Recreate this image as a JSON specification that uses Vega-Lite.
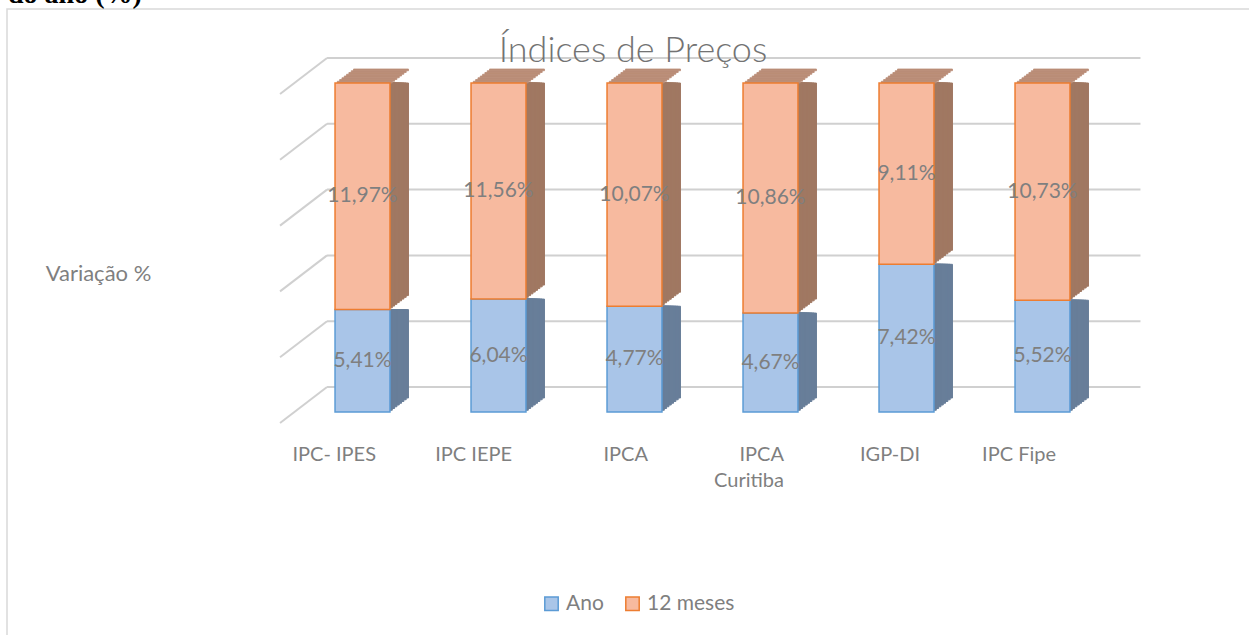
{
  "$schema": "https://vega.github.io/schema/vega-lite/v6.json",
  "width": 1244,
  "height": 628,
  "autosize": {"type": "none"},
  "padding": {"left": 7, "top": 9, "right": 0, "bottom": 0},
  "background": "white",
  "config": {
    "view": {"stroke": "#D9D9D9", "strokeWidth": 1.5},
    "font": "Lato"
  },
  "title": {
    "text": "Índices de Preços",
    "font": "Lato",
    "fontSize": 36,
    "fontWeight": 300,
    "color": "#737373",
    "anchor": "middle",
    "frame": "group",
    "offset": 0,
    "baseline": "alphabetic",
    "dy": 117,
    "dx": 4
  },
  "datasets": {
    "grid": [{"g": 0}, {"g": 0.2}, {"g": 0.4}, {"g": 0.6}, {"g": 0.8}, {"g": 1}],
    "note": [{"t": "do ano (%)"}],
    "main": [
      {"idx": "IPC- IPES", "series": "Ano", "v": 5.41},
      {"idx": "IPC- IPES", "series": "12 meses", "v": 11.97},
      {"idx": "IPC IEPE", "series": "Ano", "v": 6.04},
      {"idx": "IPC IEPE", "series": "12 meses", "v": 11.56},
      {"idx": "IPCA", "series": "Ano", "v": 4.77},
      {"idx": "IPCA", "series": "12 meses", "v": 10.07},
      {"idx": "IPCA Curitiba", "series": "Ano", "v": 4.67},
      {"idx": "IPCA Curitiba", "series": "12 meses", "v": 10.86},
      {"idx": "IGP-DI", "series": "Ano", "v": 7.42},
      {"idx": "IGP-DI", "series": "12 meses", "v": 9.11},
      {"idx": "IPC Fipe", "series": "Ano", "v": 5.52},
      {"idx": "IPC Fipe", "series": "12 meses", "v": 10.73}
    ]
  },
  "layer": [
    {
      "data": {"name": "grid"},
      "mark": {"type": "rule", "stroke": "#D0D0D0", "strokeWidth": 2, "xOffset": -8, "x2Offset": 70.5, "yOffset": -25, "y2Offset": -25},
      "encoding": {
        "x": {"datum": "IPC- IPES", "type": "nominal", "bandPosition": 0, "title": null,
              "scale": {"type": "band", "domain": ["IPC- IPES", "IPC IEPE", "IPCA", "IPCA Curitiba", "IGP-DI", "IPC Fipe"], "range": [287.5, 1103.5], "paddingInner": 0.596, "paddingOuter": 0.298}},
        "x2": {"datum": "IPC Fipe", "bandPosition": 1},
        "y": {"field": "g", "type": "quantitative", "title": "Variação %", "scale": {"domain": [0, 1], "range": [403, 74], "nice": false, "zero": false}},
        "y2": {"field": "g"}
      }
    },
    {
      "data": {"name": "grid"},
      "mark": {"type": "rule", "stroke": "#D0D0D0", "strokeWidth": 2, "xOffset": -55, "x2Offset": -8, "yOffset": 11, "y2Offset": -25},
      "encoding": {
        "x": {"datum": "IPC- IPES", "type": "nominal", "bandPosition": 0, "title": null},
        "x2": {"datum": "IPC- IPES", "bandPosition": 0},
        "y": {"field": "g", "type": "quantitative", "title": "Variação %"},
        "y2": {"field": "g"}
      }
    },
    {
      "data": {"name": "note"},
      "mark": {"type": "text", "font": "Liberation Serif", "fontWeight": "bold", "fontSize": 28, "color": "#000000", "align": "left", "baseline": "alphabetic", "dx": -327, "dy": -80},
      "encoding": {
        "x": {"datum": "IPC- IPES", "type": "nominal", "bandPosition": 0, "title": null},
        "y": {"datum": 1, "type": "quantitative", "title": "Variação %"},
        "text": {"field": "t"}
      }
    },
    {
      "data": {"name": "main"},
      "transform": [
        {"stack": "v", "groupby": ["idx"], "sort": [{"field": "series", "order": "descending"}], "offset": "normalize", "as": ["y0", "y1"]},
        {"calculate": "(datum.y0 + datum.y1) / 2", "as": "mid"},
        {"calculate": "replace(format(datum.v, '.2f'), '.', ',') + '%'", "as": "lbl"}
      ],
      "layer": [
        {"mark": {"type": "bar", "xOffset": 18.5, "yOffset": -14, "strokeWidth": 1},
         "encoding": {"x": {"field": "idx", "type": "nominal", "title": null}, "y": {"field": "y0", "type": "quantitative", "title": "Variação %"}, "y2": {"field": "y1"},
           "fill": {"condition": {"test": "datum.series === 'Ano'", "value": "#687E99"}, "value": "#A07862"},
           "stroke": {"condition": {"test": "datum.series === 'Ano'", "value": "#687E99"}, "value": "#A07862"}}},
        {"mark": {"type": "bar", "xOffset": 16.19, "yOffset": -12.25, "strokeWidth": 1},
         "encoding": {"x": {"field": "idx", "type": "nominal", "title": null}, "y": {"field": "y0", "type": "quantitative", "title": "Variação %"}, "y2": {"field": "y1"},
           "fill": {"condition": {"test": "datum.series === 'Ano'", "value": "#687E99"}, "value": "#A07862"},
           "stroke": {"condition": {"test": "datum.series === 'Ano'", "value": "#687E99"}, "value": "#A07862"}}},
        {"mark": {"type": "bar", "xOffset": 13.88, "yOffset": -10.5, "strokeWidth": 1},
         "encoding": {"x": {"field": "idx", "type": "nominal", "title": null}, "y": {"field": "y0", "type": "quantitative", "title": "Variação %"}, "y2": {"field": "y1"},
           "fill": {"condition": {"test": "datum.series === 'Ano'", "value": "#687E99"}, "value": "#A07862"},
           "stroke": {"condition": {"test": "datum.series === 'Ano'", "value": "#687E99"}, "value": "#A07862"}}},
        {"mark": {"type": "bar", "xOffset": 11.56, "yOffset": -8.75, "strokeWidth": 1},
         "encoding": {"x": {"field": "idx", "type": "nominal", "title": null}, "y": {"field": "y0", "type": "quantitative", "title": "Variação %"}, "y2": {"field": "y1"},
           "fill": {"condition": {"test": "datum.series === 'Ano'", "value": "#687E99"}, "value": "#A07862"},
           "stroke": {"condition": {"test": "datum.series === 'Ano'", "value": "#687E99"}, "value": "#A07862"}}},
        {"mark": {"type": "bar", "xOffset": 9.25, "yOffset": -7, "strokeWidth": 1},
         "encoding": {"x": {"field": "idx", "type": "nominal", "title": null}, "y": {"field": "y0", "type": "quantitative", "title": "Variação %"}, "y2": {"field": "y1"},
           "fill": {"condition": {"test": "datum.series === 'Ano'", "value": "#687E99"}, "value": "#A07862"},
           "stroke": {"condition": {"test": "datum.series === 'Ano'", "value": "#687E99"}, "value": "#A07862"}}},
        {"mark": {"type": "bar", "xOffset": 6.94, "yOffset": -5.25, "strokeWidth": 1},
         "encoding": {"x": {"field": "idx", "type": "nominal", "title": null}, "y": {"field": "y0", "type": "quantitative", "title": "Variação %"}, "y2": {"field": "y1"},
           "fill": {"condition": {"test": "datum.series === 'Ano'", "value": "#687E99"}, "value": "#A07862"},
           "stroke": {"condition": {"test": "datum.series === 'Ano'", "value": "#687E99"}, "value": "#A07862"}}},
        {"mark": {"type": "bar", "xOffset": 4.62, "yOffset": -3.5, "strokeWidth": 1},
         "encoding": {"x": {"field": "idx", "type": "nominal", "title": null}, "y": {"field": "y0", "type": "quantitative", "title": "Variação %"}, "y2": {"field": "y1"},
           "fill": {"condition": {"test": "datum.series === 'Ano'", "value": "#687E99"}, "value": "#A07862"},
           "stroke": {"condition": {"test": "datum.series === 'Ano'", "value": "#687E99"}, "value": "#A07862"}}},
        {"mark": {"type": "bar", "xOffset": 2.31, "yOffset": -1.75, "strokeWidth": 1},
         "encoding": {"x": {"field": "idx", "type": "nominal", "title": null}, "y": {"field": "y0", "type": "quantitative", "title": "Variação %"}, "y2": {"field": "y1"},
           "fill": {"condition": {"test": "datum.series === 'Ano'", "value": "#687E99"}, "value": "#A07862"},
           "stroke": {"condition": {"test": "datum.series === 'Ano'", "value": "#687E99"}, "value": "#A07862"}}},
        {"transform": [{"filter": "datum.series === '12 meses'"}],
         "mark": {"type": "bar", "xOffset": 18.5, "yOffset": -14, "y2Offset": -12.25, "strokeWidth": 0.8, "fill": "#BA8D77", "stroke": "#BA8D77"},
         "encoding": {"x": {"field": "idx", "type": "nominal", "title": null}, "y": {"field": "y1", "type": "quantitative", "title": "Variação %"}, "y2": {"field": "y1"}}},
        {"transform": [{"filter": "datum.series === '12 meses'"}],
         "mark": {"type": "bar", "xOffset": 16.19, "yOffset": -12.25, "y2Offset": -10.5, "strokeWidth": 0.8, "fill": "#BA8D77", "stroke": "#BA8D77"},
         "encoding": {"x": {"field": "idx", "type": "nominal", "title": null}, "y": {"field": "y1", "type": "quantitative", "title": "Variação %"}, "y2": {"field": "y1"}}},
        {"transform": [{"filter": "datum.series === '12 meses'"}],
         "mark": {"type": "bar", "xOffset": 13.88, "yOffset": -10.5, "y2Offset": -8.75, "strokeWidth": 0.8, "fill": "#BA8D77", "stroke": "#BA8D77"},
         "encoding": {"x": {"field": "idx", "type": "nominal", "title": null}, "y": {"field": "y1", "type": "quantitative", "title": "Variação %"}, "y2": {"field": "y1"}}},
        {"transform": [{"filter": "datum.series === '12 meses'"}],
         "mark": {"type": "bar", "xOffset": 11.56, "yOffset": -8.75, "y2Offset": -7, "strokeWidth": 0.8, "fill": "#BA8D77", "stroke": "#BA8D77"},
         "encoding": {"x": {"field": "idx", "type": "nominal", "title": null}, "y": {"field": "y1", "type": "quantitative", "title": "Variação %"}, "y2": {"field": "y1"}}},
        {"transform": [{"filter": "datum.series === '12 meses'"}],
         "mark": {"type": "bar", "xOffset": 9.25, "yOffset": -7, "y2Offset": -5.25, "strokeWidth": 0.8, "fill": "#BA8D77", "stroke": "#BA8D77"},
         "encoding": {"x": {"field": "idx", "type": "nominal", "title": null}, "y": {"field": "y1", "type": "quantitative", "title": "Variação %"}, "y2": {"field": "y1"}}},
        {"transform": [{"filter": "datum.series === '12 meses'"}],
         "mark": {"type": "bar", "xOffset": 6.94, "yOffset": -5.25, "y2Offset": -3.5, "strokeWidth": 0.8, "fill": "#BA8D77", "stroke": "#BA8D77"},
         "encoding": {"x": {"field": "idx", "type": "nominal", "title": null}, "y": {"field": "y1", "type": "quantitative", "title": "Variação %"}, "y2": {"field": "y1"}}},
        {"transform": [{"filter": "datum.series === '12 meses'"}],
         "mark": {"type": "bar", "xOffset": 4.62, "yOffset": -3.5, "y2Offset": -1.75, "strokeWidth": 0.8, "fill": "#BA8D77", "stroke": "#BA8D77"},
         "encoding": {"x": {"field": "idx", "type": "nominal", "title": null}, "y": {"field": "y1", "type": "quantitative", "title": "Variação %"}, "y2": {"field": "y1"}}},
        {"transform": [{"filter": "datum.series === '12 meses'"}],
         "mark": {"type": "bar", "xOffset": 2.31, "yOffset": -1.75, "y2Offset": 0, "strokeWidth": 0.8, "fill": "#BA8D77", "stroke": "#BA8D77"},
         "encoding": {"x": {"field": "idx", "type": "nominal", "title": null}, "y": {"field": "y1", "type": "quantitative", "title": "Variação %"}, "y2": {"field": "y1"}}},
        {"mark": {"type": "bar", "strokeWidth": 1.5},
         "encoding": {
           "x": {"field": "idx", "type": "nominal", "title": null,
                 "axis": {"orient": "bottom", "offset": -225, "domain": false, "ticks": false, "tickSize": 0, "grid": false, "labelAngle": 0, "labelPadding": 32, "labelOffset": 13.5, "labelFont": "Lato", "labelFontSize": 20, "labelFontWeight": "normal", "labelColor": "#7F7F7F", "labelLineHeight": 26, "labelBaseline": "top",
                          "labelExpr": "datum.value == 'IPCA Curitiba' ? ['IPCA', 'Curitiba'] : datum.value"}},
           "y": {"field": "y0", "type": "quantitative", "title": "Variação %",
                 "axis": {"labels": false, "ticks": false, "domain": false, "grid": false, "titleAngle": 0, "titleX": 91, "titleY": 264, "titleAlign": "center", "titleBaseline": "middle", "titleFont": "Lato", "titleFontSize": 22, "titleFontWeight": "normal", "titleColor": "#7F7F7F"}},
           "y2": {"field": "y1"},
           "fill": {"field": "series", "type": "nominal", "title": null,
                    "scale": {"domain": ["Ano", "12 meses"], "range": ["#A9C5E8", "#F7BA9F"]},
                    "legend": {"orient": "none", "legendX": 534, "legendY": 584, "direction": "horizontal", "symbolType": "square", "symbolSize": 180, "symbolStrokeWidth": 1.5, "labelFont": "Lato", "labelFontSize": 21, "labelColor": "#7F7F7F", "labelOffset": 4, "columnPadding": 18, "padding": 0}},
           "stroke": {"field": "series", "type": "nominal", "title": null,
                      "scale": {"domain": ["Ano", "12 meses"], "range": ["#5B9BD5", "#ED7D31"]}}
         }},
        {"mark": {"type": "text", "font": "Lato", "fontSize": 21, "color": "#7F7F7F", "baseline": "middle", "align": "center"},
         "encoding": {
           "x": {"field": "idx", "type": "nominal", "title": null},
           "y": {"field": "mid", "type": "quantitative", "title": "Variação %"},
           "text": {"field": "lbl"}
         }}
      ]
    }
  ]
}
